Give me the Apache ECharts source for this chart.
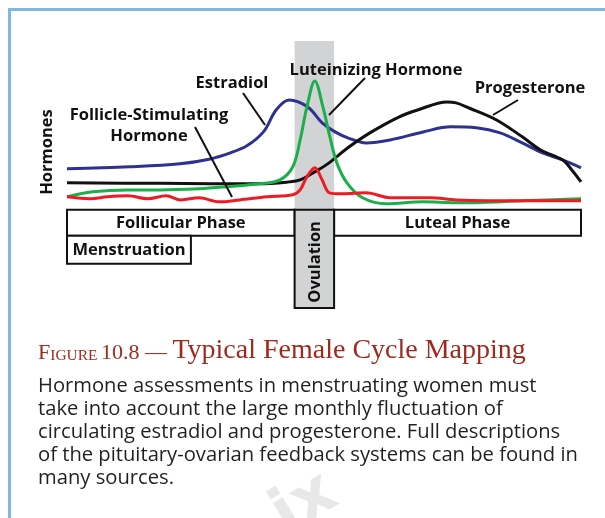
<!DOCTYPE html>
<html>
<head>
<meta charset="utf-8">
<script src="https://cdn.jsdelivr.net/npm/echarts@6/dist/echarts.min.js"></script>
<style>
html, body { margin: 0; padding: 0; background: #fff; }
#main { width: 605px; height: 518px; }
</style>
</head>
<body>
<div id="main"></div>
<script>
// cycle day (x) and relative hormone level (y)
var estradiolDays = [0, 3.4, 6.15, 7.8, 8.9, 9.8, 10.7, 11.4, 12.1, 13.1, 13.9, 14.6, 15.3, 16.3, 17.6, 19.4, 20.9, 22.3, 23.6, 24.8, 25.9, 27.0, 28];
var estradiolLevels = [22, 23.2, 25, 28, 31.7, 36, 44.5, 58, 64, 59.8, 50, 44.5, 40.9, 37.8, 39.6, 44.5, 47.6, 47, 43.9, 37.8, 31.7, 27.4, 22.6];

var progesteroneDays = [0, 5.1, 10.5, 12.1, 12.7, 13.4, 14.2, 15.3, 16.5, 18.1, 19.1, 20.7, 21.2, 21.9, 23.4, 24.8, 25.8, 27.0, 27.5, 28];
var progesteroneLevels = [13.4, 13.1, 12.8, 14, 15.2, 19.5, 25, 34.8, 43.9, 53.7, 57.9, 62.8, 62.2, 59.1, 51.8, 41.5, 33.5, 27.4, 21.3, 14];

var lhDays = [0, 1.4, 3.3, 5.1, 7.2, 8.7, 10.5, 11.6, 12.3, 12.7, 13.07, 13.5, 13.94, 14.32, 14.7, 15.25, 16.1, 17.4, 19.4, 21.2, 24.8, 28];
var lhLevels = [4.9, 7.9, 9.1, 9.1, 9.8, 11, 12.8, 15.2, 23.2, 39.6, 59.8, 75.6, 59.8, 41.5, 25.6, 13.4, 4.3, 0.6, 1.8, 1.2, 2.4, 3.7];

var fshDays = [0, 1.25, 2.2, 3.3, 4.4, 5.4, 6.2, 7.2, 8.3, 9.4, 10.9, 12.3, 12.7, 13.07, 13.5, 13.9, 14.3, 15.0, 16.3, 17.6, 19.8, 21.2, 24.8, 28];
var fshLevels = [4.9, 3.7, 4.9, 5.5, 3.7, 5.5, 3, 4.3, 1.8, 3, 4.9, 6.1, 9.1, 17.1, 22.6, 15.2, 7.3, 6.7, 7.3, 4.3, 4.3, 3, 2.4, 2.4];

// phases of the cycle, in days
var phaseNames = ['Follicular Phase', 'Luteal Phase', 'Menstruation', 'Ovulation'];
var phaseStart = [0, 14.55, 0, 12.4];
var phaseEnd = [12.4, 28, 6.75, 14.55];

var captionTitle = 'Typical Female Cycle Mapping';
var captionLines = [
    'Hormone assessments in menstruating women must',
    'take into account the large monthly fluctuation of',
    'circulating estradiol and progesterone. Full descriptions',
    'of the pituitary-ovarian feedback systems can be found in',
    'many sources.'
];

var GRAY = '#d1d3d4';
var LABEL_FONT = 'bold 16.5px "Open Sans"';

function pairs(xs, ys) {
    return xs.map(function (x, i) { return [x, ys[i]]; });
}

// rows of the phase bar, in y-axis units (0 is the curve baseline)
var rowTop = [-3, -3, -18.9, -3];
var rowBottom = [-18.9, -18.9, -36, -63];

var phaseData = phaseNames.map(function (name, i) {
    return { name: name, value: [phaseStart[i], phaseEnd[i], rowTop[i], rowBottom[i]] };
});

function renderPhase(params, api) {
    var i = params.dataIndex;
    var p0 = api.coord([api.value(0), api.value(2)]);
    var p1 = api.coord([api.value(1), api.value(3)]);
    var ovulation = phaseNames[i] === 'Ovulation';
    return {
        type: 'group',
        children: [{
            type: 'rect',
            shape: { x: p0[0], y: p0[1], width: p1[0] - p0[0], height: p1[1] - p0[1] },
            style: { fill: ovulation ? GRAY : '#fff', stroke: '#111', lineWidth: 2 }
        }, {
            type: 'text',
            x: (p0[0] + p1[0]) / 2 + (ovulation ? 1 : 0),
            y: (p0[1] + p1[1]) / 2 + (ovulation ? 3 : 1),
            rotation: ovulation ? Math.PI / 2 : 0,
            style: {
                text: phaseNames[i], font: LABEL_FONT, fill: '#111',
                align: 'center', verticalAlign: 'middle'
            }
        }]
    };
}

function lineSeries(name, days, levels, color) {
    return {
        name: name,
        type: 'line',
        data: pairs(days, levels),
        smooth: 0.35,
        showSymbol: false,
        symbol: 'none',
        lineStyle: { color: color, width: 3 },
        z: 3
    };
}

var chart = echarts.init(document.getElementById('main'));

var labelStyle = { font: LABEL_FONT, fill: '#111', align: 'center', verticalAlign: 'middle' };
function label(text, x, y, rot) {
    return { type: 'text', x: x, y: y, rotation: rot || 0, style: Object.assign({ text: text }, labelStyle), z: 10 };
}
function leader(x1, y1, x2, y2) {
    return { type: 'line', shape: { x1: x1, y1: y1, x2: x2, y2: y2 }, style: { stroke: '#111', lineWidth: 2 }, z: 10 };
}

var titleRich = {};
[['F', 22], ['sc', 15.5], ['n', 22], ['t', 28]].forEach(function (r) {
    titleRich[r[0]] = {
        font: r[1] + 'px "Liberation Serif"', fill: '#9e2a1d',
        verticalAlign: 'bottom', lineHeight: 28, padding: [0, 0, r[1] < 27 ? 1 : 0, 0]
    };
});

var option = {
    animation: false,
    grid: { left: 67, right: 24, top: 41, bottom: 210 },
    xAxis: { type: 'value', min: 0, max: 28, show: false },
    yAxis: { type: 'value', min: -63, max: 100, show: false },
    series: [
        {
            type: 'custom',
            renderItem: renderPhase,
            data: phaseData,
            z: 2,
            markArea: {
                silent: true,
                z: 1,
                itemStyle: { color: GRAY },
                data: [[{ xAxis: phaseStart[3], yAxis: 100 }, { xAxis: phaseEnd[3], yAxis: -3 }]]
            }
        },
        lineSeries('Estradiol', estradiolDays, estradiolLevels, '#2e3192'),
        lineSeries('Progesterone', progesteroneDays, progesteroneLevels, '#111'),
        lineSeries('Luteinizing Hormone', lhDays, lhLevels, '#1aaf4b'),
        lineSeries('Follicle-Stimulating Hormone', fshDays, fshLevels, '#ed1c24')
    ],
    graphic: [
        {
            type: 'polyline',
            shape: { points: [[9.5, 518], [9.5, 9.5], [605, 9.5]] },
            style: { stroke: '#80b9e0', lineWidth: 3, fill: null }
        },
        {
            type: 'text', x: 305, y: 505, rotation: 0.55, z: 0,
            style: { text: 'ix', font: 'bold 64px "DejaVu Sans"', fill: '#e8e8e8', align: 'center', verticalAlign: 'middle' }
        },
        label('Hormones', 47, 152, Math.PI / 2),
        label('Estradiol', 232, 83),
        label('Luteinizing Hormone', 376, 70),
        label('Progesterone', 530, 88),
        label('Follicle-Stimulating', 149, 115),
        label('Hormone', 149, 136),
        leader(243, 93, 265, 125),
        leader(195, 127, 232, 197),
        leader(365, 78, 329, 115),
        leader(518, 100, 493, 115),
        {
            type: 'text', x: 38, y: 351,
            style: {
                text: '{F|F}{sc|IGURE} {n|10.8 — }{t|' + captionTitle + '}',
                verticalAlign: 'middle',
                rich: titleRich
            }
        },
        {
            type: 'text', x: 38, y: 375,
            style: {
                text: captionLines.join('\n'),
                font: '20.2px "Open Sans"', fill: '#231f20', lineHeight: 23,
                verticalAlign: 'top'
            }
        }
    ]
};

chart.setOption(option);
</script>
</body>
</html>
